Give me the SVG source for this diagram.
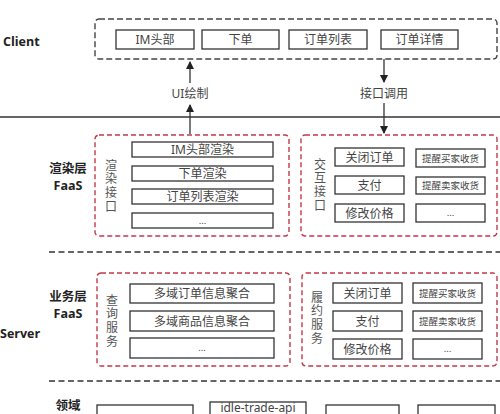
<svg xmlns="http://www.w3.org/2000/svg" width="500" height="414" viewBox="0 0 500 414">
<style>
.bg{fill:#fff}
.lbl{font-family:"Open Sans","Noto Sans CJK SC",sans-serif;font-weight:bold;font-size:12.5px;fill:#222}
.cn{font-family:"Noto Sans","Noto Sans CJK SC",sans-serif;font-size:12px;fill:#444}
.vt{font-family:"Noto Sans CJK SC",sans-serif;font-size:12px;fill:#555;writing-mode:vertical-rl;letter-spacing:1.8px}
.sm{font-family:"Noto Sans","Noto Sans CJK SC",sans-serif;font-size:9.5px;fill:#444}
.box{fill:#fff;stroke:#333;stroke-width:1.3}
.red{fill:none;stroke:#c23a4a;stroke-width:1.4;stroke-dasharray:5 3}
.gray{fill:none;stroke:#444;stroke-width:1.4;stroke-dasharray:6 3}
.sep{stroke:#333;stroke-width:1.5;stroke-dasharray:6 3.5}
.ln{stroke:#333;stroke-width:1.3;fill:none}
</style>
<defs>
<marker id="ah" markerWidth="8" markerHeight="10" refX="7" refY="4" orient="auto" markerUnits="userSpaceOnUse">
<path d="M0,0 L8,4 L0,8 z" fill="#222"/>
</marker>
</defs>
<rect class="bg" width="500" height="414"/>

<g id="layer-labels">
<text class="lbl" x="3" y="46">Client</text>
<text class="lbl" x="68" y="173" text-anchor="middle">渲染层</text>
<text class="lbl" x="68" y="190" text-anchor="middle">FaaS</text>
<text class="lbl" x="68" y="301" text-anchor="middle">业务层</text>
<text class="lbl" x="68" y="318" text-anchor="middle">FaaS</text>
<text class="lbl" x="0" y="338">Server</text>
<text class="lbl" x="68" y="410" text-anchor="middle">领域</text>
</g>

<g id="separators">
<line x1="0" y1="117" x2="500" y2="117" class="ln" stroke-width="1.5"/>
<line x1="49" y1="252" x2="500" y2="252" class="sep"/>
<line x1="49" y1="381" x2="500" y2="381" class="sep"/>
</g>

<g id="client">
<rect class="gray" x="95" y="19" width="402" height="40" rx="4"/>
<g id="c-im"><rect class="box" x="116" y="30" width="78" height="19"/><text class="cn" x="155" y="44" text-anchor="middle">IM头部</text></g>
<g id="c-order"><rect class="box" x="202" y="30" width="77" height="19"/><text class="cn" x="240.5" y="44" text-anchor="middle">下单</text></g>
<g id="c-list"><rect class="box" x="289" y="30" width="78" height="19"/><text class="cn" x="328" y="44" text-anchor="middle">订单列表</text></g>
<g id="c-detail"><rect class="box" x="381" y="30" width="77" height="19"/><text class="cn" x="419.5" y="44" text-anchor="middle">订单详情</text></g>
</g>

<g id="connectors">
<line class="ln" x1="190" y1="83" x2="190" y2="62" marker-end="url(#ah)"/>
<line class="ln" x1="190" y1="134" x2="190" y2="105" marker-end="url(#ah)"/>
<line class="ln" x1="384" y1="59" x2="384" y2="82" marker-end="url(#ah)"/>
<line class="ln" x1="384" y1="103" x2="384" y2="133" marker-end="url(#ah)"/>
<text class="cn" x="190" y="98" text-anchor="middle">UI绘制</text>
<text class="cn" x="384" y="98" text-anchor="middle">接口调用</text>
</g>

<g id="render-ui">
<rect class="red" x="95" y="135" width="194" height="101" rx="4"/>
<text class="vt" x="111" y="159">渲染接口</text>
<g id="r-im"><rect class="box" x="132" y="142" width="141" height="15"/><text class="cn" x="202.5" y="154" text-anchor="middle">IM头部渲染</text></g>
<g id="r-order"><rect class="box" x="132" y="166" width="141" height="15"/><text class="cn" x="202.5" y="178" text-anchor="middle">下单渲染</text></g>
<g id="r-list"><rect class="box" x="132" y="189" width="141" height="15"/><text class="cn" x="202.5" y="201" text-anchor="middle">订单列表渲染</text></g>
<g id="r-more"><rect class="box" x="132" y="213" width="141" height="15"/><text class="sm" x="202.5" y="224" text-anchor="middle">...</text></g>
</g>

<g id="render-interact">
<rect class="red" x="301" y="135" width="196" height="101" rx="4"/>
<text class="vt" x="320" y="158">交互接口</text>
<g id="i-close"><rect class="box" x="335" y="148" width="69" height="18"/><text class="cn" x="369.5" y="161.5" text-anchor="middle">关闭订单</text></g>
<g id="i-pay"><rect class="box" x="335" y="176" width="69" height="18"/><text class="cn" x="369.5" y="189.5" text-anchor="middle">支付</text></g>
<g id="i-price"><rect class="box" x="335" y="204" width="69" height="18"/><text class="cn" x="369.5" y="217.5" text-anchor="middle">修改价格</text></g>
<g id="i-buyer"><rect class="box" x="416" y="149" width="69" height="18"/><text class="sm" x="450.5" y="161.5" text-anchor="middle">提醒买家收货</text></g>
<g id="i-seller"><rect class="box" x="416" y="177" width="69" height="17"/><text class="sm" x="450.5" y="189" text-anchor="middle">提醒卖家收货</text></g>
<g id="i-more"><rect class="box" x="416" y="204" width="69" height="18"/><text class="sm" x="450.5" y="216" text-anchor="middle">...</text></g>
</g>

<g id="biz-query">
<rect class="red" x="97" y="273" width="193" height="93" rx="4"/>
<text class="vt" x="112" y="294">查询服务</text>
<g id="q-order"><rect class="box" x="130" y="284" width="144" height="19"/><text class="cn" x="202" y="298" text-anchor="middle">多域订单信息聚合</text></g>
<g id="q-item"><rect class="box" x="130" y="311" width="144" height="20"/><text class="cn" x="202" y="325.5" text-anchor="middle">多域商品信息聚合</text></g>
<g id="q-more"><rect class="box" x="130" y="338" width="144" height="20"/><text class="sm" x="202" y="351" text-anchor="middle">...</text></g>
</g>

<g id="biz-fulfil">
<rect class="red" x="302" y="273" width="195" height="93" rx="4"/>
<text class="vt" x="317" y="291">履约服务</text>
<g id="f-close"><rect class="box" x="333" y="283" width="69" height="20"/><text class="cn" x="367.5" y="297.5" text-anchor="middle">关闭订单</text></g>
<g id="f-pay"><rect class="box" x="333" y="311" width="69" height="20"/><text class="cn" x="367.5" y="325.5" text-anchor="middle">支付</text></g>
<g id="f-price"><rect class="box" x="333" y="339" width="69" height="20"/><text class="cn" x="367.5" y="353.5" text-anchor="middle">修改价格</text></g>
<g id="f-buyer"><rect class="box" x="413" y="283" width="69" height="20"/><text class="sm" x="447.5" y="296.5" text-anchor="middle">提醒买家收货</text></g>
<g id="f-seller"><rect class="box" x="413" y="311" width="69" height="20"/><text class="sm" x="447.5" y="324.5" text-anchor="middle">提醒卖家收货</text></g>
<g id="f-more"><rect class="box" x="413" y="339" width="69" height="20"/><text class="sm" x="447.5" y="352" text-anchor="middle">...</text></g>
</g>

<g id="domain">
<g id="d-1"><rect class="box" x="97" y="405" width="96" height="20"/></g>
<g id="d-api"><rect class="box" x="210" y="402" width="96" height="24"/><text class="cn" x="258" y="411.5" text-anchor="middle">idle-trade-api</text></g>
<g id="d-3"><rect class="box" x="326" y="405" width="73" height="20"/></g>
<g id="d-4"><rect class="box" x="418" y="405" width="77" height="20"/></g>
</g>
</svg>
